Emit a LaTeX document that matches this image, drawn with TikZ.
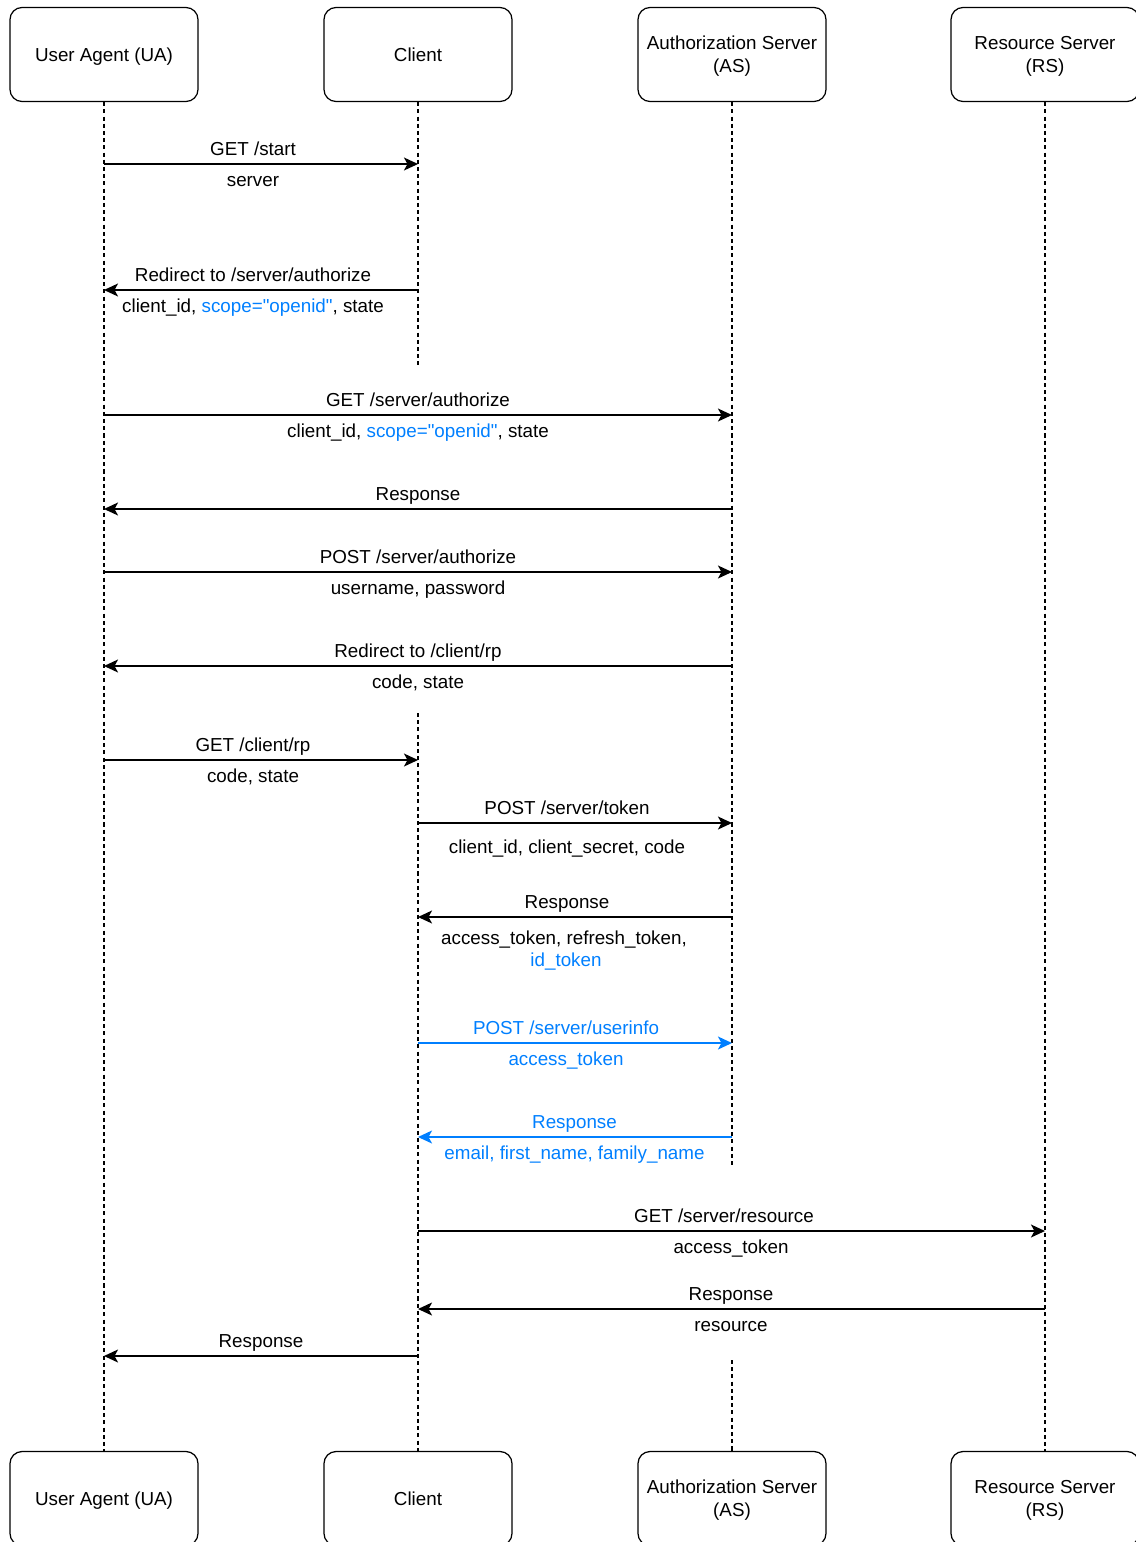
\documentclass[tikz,border=0pt]{standalone}
\usepackage{fontspec}
\usepackage{xcolor}
\newfontfamily\diofont{Liberation Sans}
\usetikzlibrary{arrows.meta}
\definecolor{infoblue}{HTML}{007FFF}

\begin{document}
\begin{tikzpicture}[x=0.02cm, y=-0.02cm, >={Stealth[length=8pt,width=7.4pt,inset=2pt]},
    actor/.style={draw, line width=0.7pt, rounded corners=6.8pt,
        minimum width=3.76cm, minimum height=1.88cm, align=center, text depth=0pt,
        font=\diofont\fontsize{10.7}{13}\selectfont},
    life/.style={line width=0.6pt, dash pattern=on 2.3pt off 1.8pt},
    msg/.style={->, line width=0.75pt},
    lbl/.style={anchor=base, inner sep=0pt, font=\diofont\fontsize{10.7}{13}\selectfont}]

    \useasboundingbox (0,0) rectangle (1136,1542);

    % Participants, top row
    \node[actor] (ua) at (104,54.5) {User Agent (UA)};
    \node[actor] (cl) at (418,54.5) {Client};
    \node[actor] (as) at (732,54.5) {Authorization Server\\(AS)};
    \node[actor] (rs) at (1045,54.5) {Resource Server\\(RS)};

    % Participants, bottom row
    \node[actor] (uab) at (104,1498.5) {User Agent (UA)};
    \node[actor] (clb) at (418,1498.5) {Client};
    \node[actor] (asb) at (732,1498.5) {Authorization Server\\(AS)};
    \node[actor] (rsb) at (1045,1498.5) {Resource Server\\(RS)};

    % Lifelines (client and AS have gaps)
    \coordinate (clstop) at (418,368);
    \coordinate (clgo) at (418,713);
    \coordinate (asstop) at (732,1168);
    \coordinate (asgo) at (732,1360);
    \draw[life] (ua) -- (uab);
    \draw[life] (cl) -- (clstop);
    \draw[life] (clgo) -- (clb);
    \draw[life] (as) -- (asstop);
    \draw[life] (asgo) -- (asb);
    \draw[life] (rs) -- (rsb);

    % Message rows
    \coordinate (r1) at (0,164);
    \coordinate (r2) at (0,290);
    \coordinate (r3) at (0,415);
    \coordinate (r4) at (0,509);
    \coordinate (r5) at (0,572);
    \coordinate (r6) at (0,666);
    \coordinate (r7) at (0,760);
    \coordinate (r8) at (0,823);
    \coordinate (r9) at (0,917);
    \coordinate (r10) at (0,1043);
    \coordinate (r11) at (0,1137);
    \coordinate (r12) at (0,1231);
    \coordinate (r13) at (0,1309);
    \coordinate (r14) at (0,1356);

    % Messages
    \draw[msg] (ua |- r1) -- (cl |- r1);
    \node[lbl] (t1) at (253,155.5) {GET /start};
    \node[lbl] (b1) at (253,186.5) {server};

    \draw[msg] (cl |- r2) -- (ua |- r2);
    \node[lbl] (t2) at (253,281.5) {Redirect to /server/authorize};
    \node[lbl] (b2) at (253,312.5) {client\_id, \textcolor{infoblue}{scope="openid"}, state};

    \draw[msg] (ua |- r3) -- (as |- r3);
    \node[lbl] (t3) at (418,406.5) {GET /server/authorize};
    \node[lbl] (b3) at (418,437.5) {client\_id, \textcolor{infoblue}{scope="openid"}, state};

    \draw[msg] (as |- r4) -- (ua |- r4);
    \node[lbl] (t4) at (418,500.5) {Response};

    \draw[msg] (ua |- r5) -- (as |- r5);
    \node[lbl] (t5) at (418,563.5) {POST /server/authorize};
    \node[lbl] (b5) at (418,594.5) {username, password};

    \draw[msg] (as |- r6) -- (ua |- r6);
    \node[lbl] (t6) at (418,657.5) {Redirect to /client/rp};
    \node[lbl] (b6) at (418,688.5) {code, state};

    \draw[msg] (ua |- r7) -- (cl |- r7);
    \node[lbl] (t7) at (253,751.5) {GET /client/rp};
    \node[lbl] (b7) at (253,782.5) {code, state};

    \draw[msg] (cl |- r8) -- (as |- r8);
    \node[lbl] (t8) at (567,814.5) {POST /server/token};
    \node[lbl] (b8) at (567,853) {client\_id, client\_secret, code};

    \draw[msg] (as |- r9) -- (cl |- r9);
    \node[lbl] (t9) at (567,908.5) {Response};
    \node[lbl] (b9) at (564,944) {access\_token, refresh\_token,};
    \node[lbl, infoblue] (c9) at (566,966) {id\_token};

    % userinfo request in blue
    \draw[msg, infoblue] (cl |- r10) -- (as |- r10);
    \node[lbl, infoblue] (t10) at (566,1034.5) {POST /server/userinfo};
    \node[lbl, infoblue] (b10) at (566,1065.5) {access\_token};

    \draw[msg, infoblue] (as |- r11) -- (cl |- r11);
    \node[lbl, infoblue] (t11) at (574.5,1128.5) {Response};
    \node[lbl, infoblue] (b11) at (574.5,1159.5) {email, first\_name, family\_name};

    \draw[msg] (cl |- r12) -- (rs |- r12);
    \node[lbl] (t12) at (724,1222.5) {GET /server/resource};
    \node[lbl] (b12) at (731,1253.5) {access\_token};

    \draw[msg] (rs |- r13) -- (cl |- r13);
    \node[lbl] (t13) at (731,1300.5) {Response};
    \node[lbl] (b13) at (731,1331.5) {resource};

    \draw[msg] (cl |- r14) -- (ua |- r14);
    \node[lbl] (t14) at (261,1347.5) {Response};

\end{tikzpicture}
\end{document}
